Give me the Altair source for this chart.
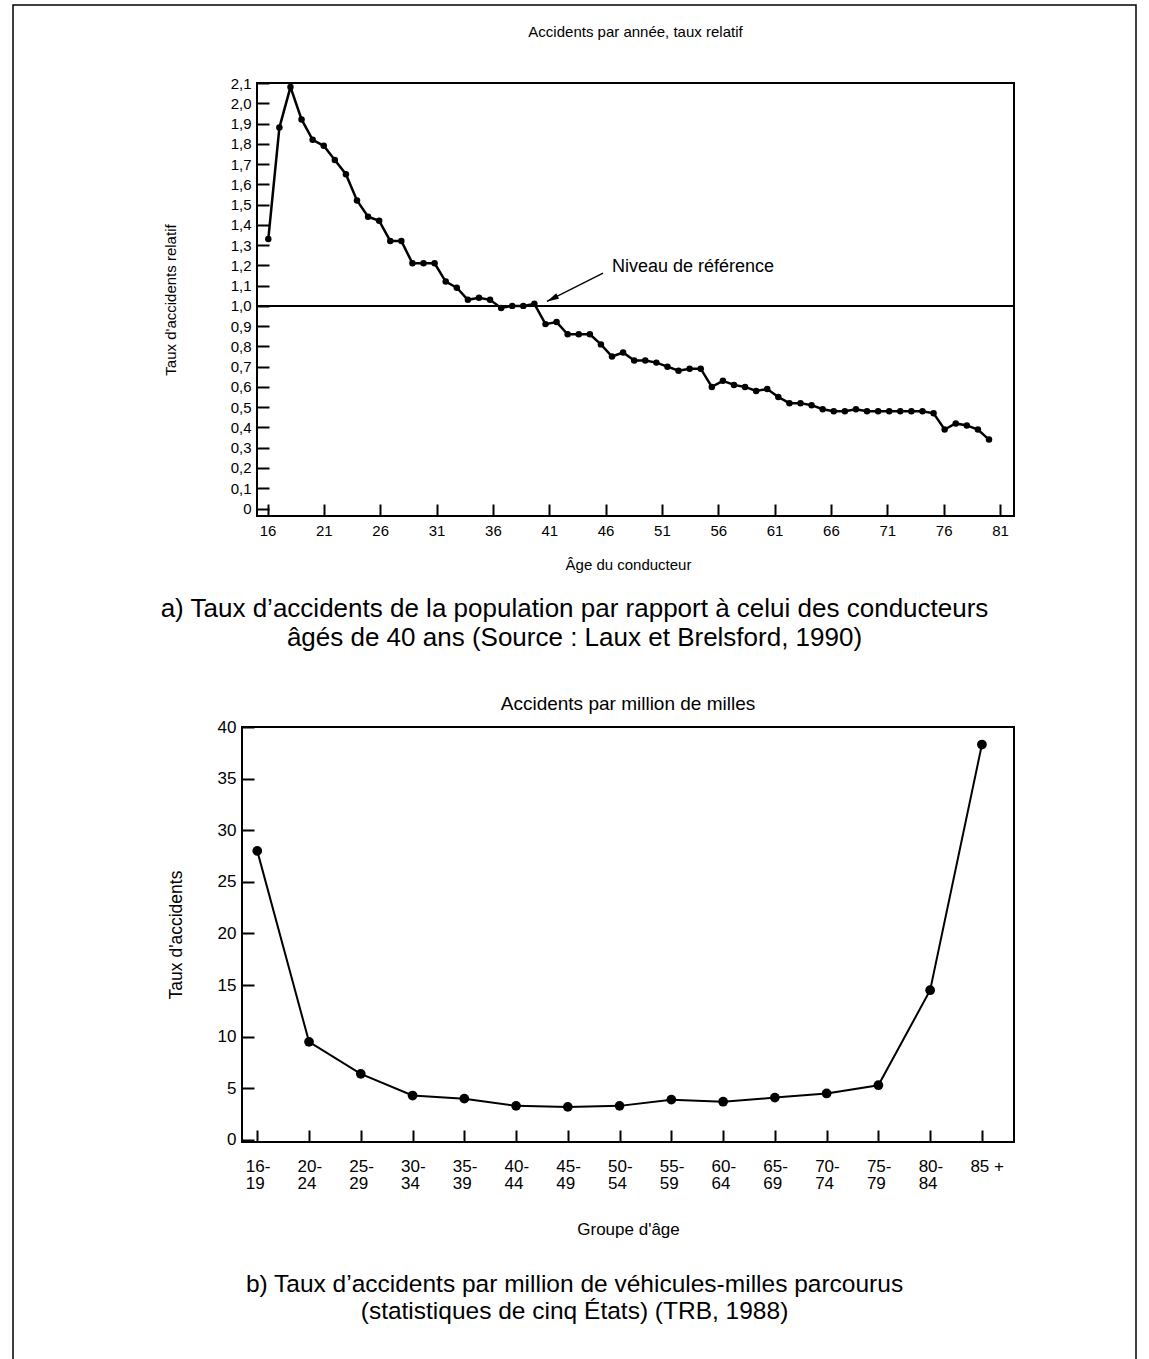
import altair as alt
import pandas as pd

FONT = "Liberation Sans"

# ---------------- Panel a : relative accident rate by driver age ----------------
ages = [16, 17, 18, 19, 20, 21, 22, 23, 24, 25, 26, 27, 28, 29, 30, 31, 32, 33, 34, 35,
        36, 37, 38, 39, 40, 41, 42, 43, 44, 45, 46, 47, 48, 49, 50, 51, 52, 53, 54, 55,
        56, 57, 58, 59, 60, 61, 62, 63, 64, 65, 66, 67, 68, 69, 70, 71, 72, 73, 74, 75,
        76, 77, 78, 79, 80, 81]
relative_rate = [1.33, 1.88, 2.08, 1.92, 1.82, 1.79, 1.72, 1.65, 1.52, 1.44,
                 1.42, 1.32, 1.32, 1.21, 1.21, 1.21, 1.12, 1.09, 1.03, 1.04,
                 1.03, 0.99, 1.00, 1.00, 1.01, 0.91, 0.92, 0.86, 0.86, 0.86,
                 0.81, 0.75, 0.77, 0.73, 0.73, 0.72, 0.70, 0.68, 0.69, 0.69,
                 0.60, 0.63, 0.61, 0.60, 0.58, 0.59, 0.55, 0.52, 0.52, 0.51,
                 0.49, 0.48, 0.48, 0.49, 0.48, 0.48, 0.48, 0.48, 0.48, 0.48,
                 0.47, 0.39, 0.42, 0.41, 0.39, 0.34]
age_ticks = [16, 21, 26, 31, 36, 41, 46, 51, 56, 61, 66, 71, 76, 81]
rate_ticks = [0, 0.1, 0.2, 0.3, 0.4, 0.5, 0.6, 0.7, 0.8, 0.9, 1.0,
              1.1, 1.2, 1.3, 1.4, 1.5, 1.6, 1.7, 1.8, 1.9, 2.0, 2.1]
reference_level = [1.0]
ref_label = ["Niveau de référence"]
ref_label_pos = [47.0, 1.192]
arrow_tail = [46.19, 1.162]
arrow_head = [41.13, 1.022]
title_a = "Accidents par année, taux relatif"
caption_a = "a) Taux d\u2019accidents de la population par rapport à celui des conducteurs\n\u00e2gés de 40 ans (Source : Laux et Brelsford, 1990)"

# ---------------- Panel b : accidents per million miles by age group ----------------
groups = ["16-19", "20-24", "25-29", "30-34", "35-39", "40-44", "45-49", "50-54",
          "55-59", "60-64", "65-69", "70-74", "75-79", "80-84", "85 +"]
group_label_lines = [["16-", "19"], ["20-", "24"], ["25-", "29"], ["30-", "34"], ["35-", "39"],
                     ["40-", "44"], ["45-", "49"], ["50-", "54"], ["55-", "59"], ["60-", "64"],
                     ["65-", "69"], ["70-", "74"], ["75-", "79"], ["80-", "84"], ["85 +"]]
rate_per_million = [28.0, 9.5, 6.4, 4.3, 4.0, 3.3, 3.2, 3.3, 3.9, 3.7, 4.1, 4.5, 5.3, 14.5, 38.3]
rate_ticks_b = [0, 5, 10, 15, 20, 25, 30, 35, 40]
title_b = "Accidents par million de milles"
caption_b = "b) Taux d\u2019accidents par million de véhicules-milles parcourus\n(statistiques de cinq États) (TRB, 1988)"

# ---------------- Panel a chart ----------------
WA, HA = 772, 433      # view; the framed plot box starts 15 px in from the left
BOX_LEFT = 15
dfA = pd.DataFrame({"age": ages, "rate": relative_rate})
one = pd.DataFrame({"k": [0]})

y_scale_a = alt.Scale(domain=[-0.037, 2.1], nice=False, zero=False)
y_axis_a = alt.Axis(values=rate_ticks, tickSize=12, offset=-(BOX_LEFT + 12), domain=False, grid=False,
                    labelExpr="datum.value == 0 ? '0' : replace(format(datum.value, '.1f'), '.', ',')",
                    labelFontSize=15, labelPadding=6, labelOverlap=False,
                    title="Taux d'accidents relatif", titleFontSize=15, titlePadding=52)
x_scale_data_a = alt.Scale(domain=[13.628, 83.255], nice=False, zero=False)

axis_carrier = alt.Chart(pd.DataFrame({"tick": age_ticks})).mark_point(opacity=0).encode(
    x=alt.X("tick:Q", scale=alt.Scale(domain=[13.737, 82.242], nice=False, zero=False),
            axis=alt.Axis(values=age_ticks, tickSize=12, offset=-12, domain=False, grid=False,
                          labelFontSize=15, labelPadding=7, labelOverlap=False,
                          title="Âge du conducteur", titleFontSize=15, titlePadding=19)),
    y=alt.value(HA / 2),
)

frame = alt.Chart(one).mark_rect(fill="transparent", stroke="black", strokeWidth=1.5).encode(
    x=alt.value(-229), x2=alt.value(894), y=alt.value(-78), y2=alt.value(1277)
)
plot_box = alt.Chart(one).mark_rect(fill="transparent", stroke="black", strokeWidth=2).encode(
    x=alt.value(BOX_LEFT), x2=alt.value(WA), y=alt.value(0), y2=alt.value(HA)
)
head_a = alt.Chart(pd.DataFrame({"t": [title_a]})).mark_text(
    align="center", baseline="middle", fontSize=15, font=FONT, color="black"
).encode(x=alt.value((BOX_LEFT + WA) / 2), y=alt.value(-51), text="t:N")

ref_rule = alt.Chart(pd.DataFrame({"v": reference_level})).mark_rule(color="black", strokeWidth=2).encode(
    y=alt.Y("v:Q", scale=y_scale_a, axis=y_axis_a),
    x=alt.value(BOX_LEFT), x2=alt.value(WA),
)

lineA = alt.Chart(dfA).mark_line(color="black", strokeWidth=2.5).encode(
    x=alt.X("age:Q", scale=x_scale_data_a, axis=None),
    y=alt.Y("rate:Q", scale=y_scale_a, axis=y_axis_a),
)
ptsA = alt.Chart(dfA).mark_circle(color="black", size=42, opacity=1).encode(
    x=alt.X("age:Q", scale=x_scale_data_a, axis=None),
    y=alt.Y("rate:Q", scale=y_scale_a, axis=y_axis_a),
)

arrow_df = pd.DataFrame({"x": [arrow_tail[0]], "y": [arrow_tail[1]],
                         "x2": [arrow_head[0]], "y2": [arrow_head[1]]})
arrow_line = alt.Chart(arrow_df).mark_rule(color="black", strokeWidth=1.3).encode(
    x=alt.X("x:Q", scale=x_scale_data_a, axis=None), x2="x2:Q",
    y=alt.Y("y:Q", scale=y_scale_a, axis=y_axis_a), y2="y2:Q",
)
arrow_headmark = alt.Chart(arrow_df).mark_point(
    shape="M0,0L-0.6,2.4L0.6,2.4Z", filled=True, color="black", size=100, angle=243, opacity=1
).encode(
    x=alt.X("x2:Q", scale=x_scale_data_a, axis=None),
    y=alt.Y("y2:Q", scale=y_scale_a, axis=y_axis_a),
)

label_df = pd.DataFrame({"x": [ref_label_pos[0]], "y": [ref_label_pos[1]], "t": ref_label})
ref_text = alt.Chart(label_df).mark_text(align="left", baseline="middle", fontSize=18,
                                          font=FONT, color="black").encode(
    x=alt.X("x:Q", scale=x_scale_data_a, axis=None),
    y=alt.Y("y:Q", scale=y_scale_a, axis=y_axis_a),
    text="t:N",
)

cap_a = alt.Chart(pd.DataFrame({"t": [caption_a]})).mark_text(
    align="center", baseline="middle", fontSize=26, font=FONT, color="black",
    lineBreak="\n", lineHeight=29
).encode(x=alt.value(332.5), y=alt.value(526), text="t:N")

inner_a = alt.layer(frame, plot_box, head_a, ref_rule, lineA, ptsA, arrow_line, arrow_headmark,
                    ref_text, cap_a)
chartA = alt.layer(axis_carrier, inner_a).resolve_scale(x="independent").properties(
    width=WA, height=HA,
    view=alt.ViewBackground(stroke="transparent", strokeWidth=0),
)

# ---------------- Panel b chart ----------------
WB, HB = 772, 415
dfB = pd.DataFrame({"idx": list(range(len(groups))), "group": groups, "rate": rate_per_million})
x_scale_b = alt.Scale(domain=[-0.295, 14.62], nice=False, zero=False)
x_axis_b = alt.Axis(values=list(range(len(groups))), tickSize=12, offset=-12, domain=False, grid=False,
                    labelExpr=str(group_label_lines) + "[datum.value]",
                    labelAlign="left", labelOffset=-12, labelFontSize=17, labelLineHeight=17,
                    labelPadding=16, labelOverlap=False,
                    title="Groupe d'âge", titleFontSize=17, titlePadding=30)
y_scale_b = alt.Scale(domain=[-0.2, 40], nice=False, zero=False)
y_axis_b = alt.Axis(values=rate_ticks_b, tickSize=12, offset=-12, domain=False, grid=False,
                    labelFontSize=17, labelPadding=6, labelOverlap=False,
                    title="Taux d'accidents", titleFontSize=17.5, titlePadding=32)

lineB = alt.Chart(dfB).mark_line(color="black", strokeWidth=2).encode(
    x=alt.X("idx:Q", scale=x_scale_b, axis=x_axis_b),
    y=alt.Y("rate:Q", scale=y_scale_b, axis=y_axis_b),
)
ptsB = alt.Chart(dfB).mark_circle(color="black", size=95, opacity=1).encode(
    x=alt.X("idx:Q", scale=x_scale_b, axis=x_axis_b),
    y=alt.Y("rate:Q", scale=y_scale_b, axis=y_axis_b),
)
head_b = alt.Chart(pd.DataFrame({"t": [title_b]})).mark_text(
    align="center", baseline="middle", fontSize=19, font=FONT, color="black"
).encode(x=alt.value(WB / 2), y=alt.value(-23), text="t:N")
cap_b = alt.Chart(pd.DataFrame({"t": [caption_b]})).mark_text(
    align="center", baseline="middle", fontSize=24.5, font=FONT, color="black",
    lineBreak="\n", lineHeight=27
).encode(x=alt.value(332.5), y=alt.value(558), text="t:N")

chartB = alt.layer(lineB, ptsB, head_b, cap_b).properties(width=WB, height=HB)

chart = alt.vconcat(chartA, chartB, spacing=211, bounds="flush").properties(
    padding={"left": 12, "top": 4, "right": 12, "bottom": 0}
).configure_view(
    stroke="black", strokeWidth=2
).configure_axis(
    labelFont=FONT, titleFont=FONT, labelColor="black", titleColor="black",
    tickColor="black", tickWidth=2, titleFontWeight="normal"
)

chart.save("out.html", embed_options={"renderer": "svg", "actions": False})
